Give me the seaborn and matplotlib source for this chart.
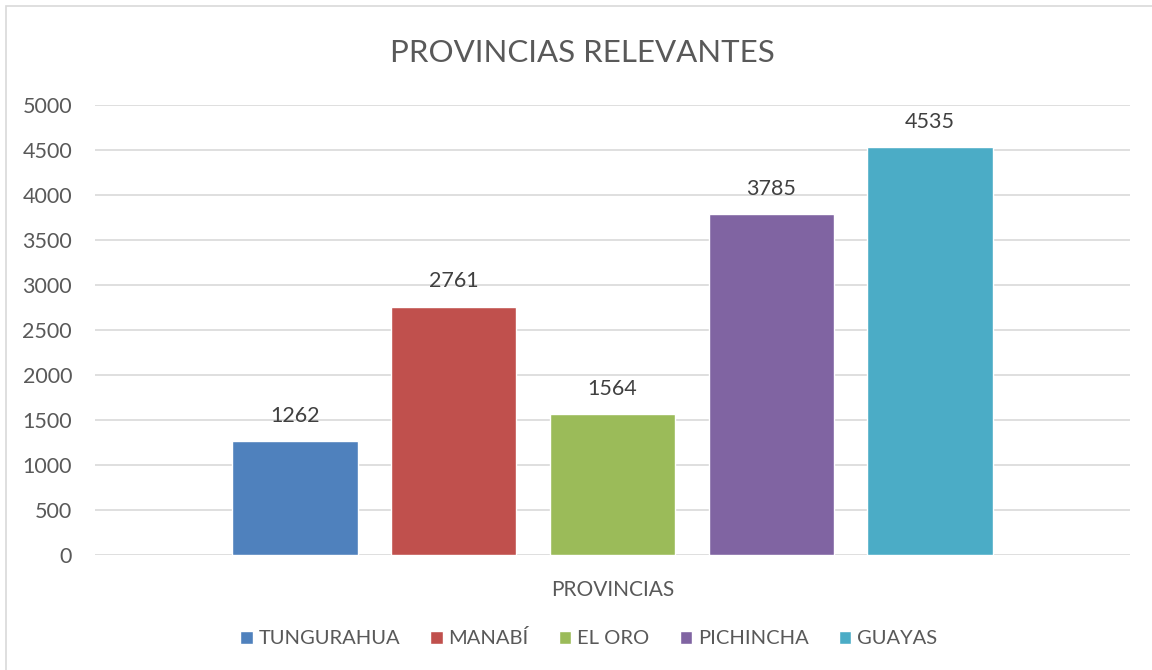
import matplotlib
matplotlib.use("Agg")
import matplotlib.pyplot as plt
import seaborn as sns
import pandas as pd
from matplotlib.patches import Rectangle

categories = ["TUNGURAHUA", "MANABÍ", "EL ORO", "PICHINCHA", "GUAYAS"]
values = [1262, 2761, 1564, 3785, 4535]
colors = ["#4F81BD", "#C0504D", "#9BBB59", "#8064A2", "#4BACC6"]
group_label = "PROVINCIAS"
title = "PROVINCIAS RELEVANTES"
yticks = [0, 500, 1000, 1500, 2000, 2500, 3000, 3500, 4000, 4500, 5000]

df = pd.DataFrame({"grupo": [group_label] * len(categories),
                   "provincia": categories, "valor": values})

sns.set_style("white")
plt.rcParams["font.family"] = ["Lato", "DejaVu Sans"]
text_color = "#595959"

fig = plt.figure(figsize=(11.52, 6.70), dpi=100)
ax = fig.add_axes([95 / 1152, 1 - 555 / 670, (1130 - 95) / 1152, (555 - 105) / 670])

sns.barplot(data=df, x="grupo", y="valor", hue="provincia", hue_order=categories,
            palette=colors, width=0.767, gap=0.21, dodge=True, ax=ax,
            saturation=1, legend=True, errorbar=None)

ax.set_xlim(-0.5, 0.5)
ax.set_ylim(0, 5000)
ax.set_yticks(yticks)
ax.set_yticklabels([str(t) for t in yticks], fontsize=15.5, color=text_color)
ax.yaxis.grid(True, color="#D9D9D9", linewidth=1.2)
ax.set_axisbelow(True)
for s in ax.spines.values():
    s.set_visible(False)
ax.tick_params(axis="y", length=0, pad=16.5)
ax.tick_params(axis="x", length=0)
ax.set_xticks([])
ax.set_ylabel("")
ax.set_xlabel(group_label, fontsize=15, color=text_color, labelpad=18)

for cont in ax.containers:
    for bar in cont:
        h = bar.get_height()
        ax.annotate(f"{int(round(h))}", (bar.get_x() + bar.get_width() / 2, h),
                    xytext=(0, 11), textcoords="offset points", ha="center",
                    va="bottom", fontsize=15.5, color="#404040")

ax.set_title(title, fontsize=22.5, color=text_color, pad=31, x=0.4705)

leg = ax.legend(loc="upper center", bbox_to_anchor=(0.477, -0.125), ncol=5, frameon=False,
                fontsize=14.5, handlelength=0.6, handleheight=0.6, handletextpad=0.3,
                columnspacing=1.5)
for t in leg.get_texts():
    t.set_color(text_color)

fig.patches.append(Rectangle((6 / 1152, -0.1), 1.2, 1 - 6 / 670 + 0.1,
                             transform=fig.transFigure, fill=False,
                             edgecolor="#D9D9D9", linewidth=1.2))

fig.savefig("out.png", dpi=100)
